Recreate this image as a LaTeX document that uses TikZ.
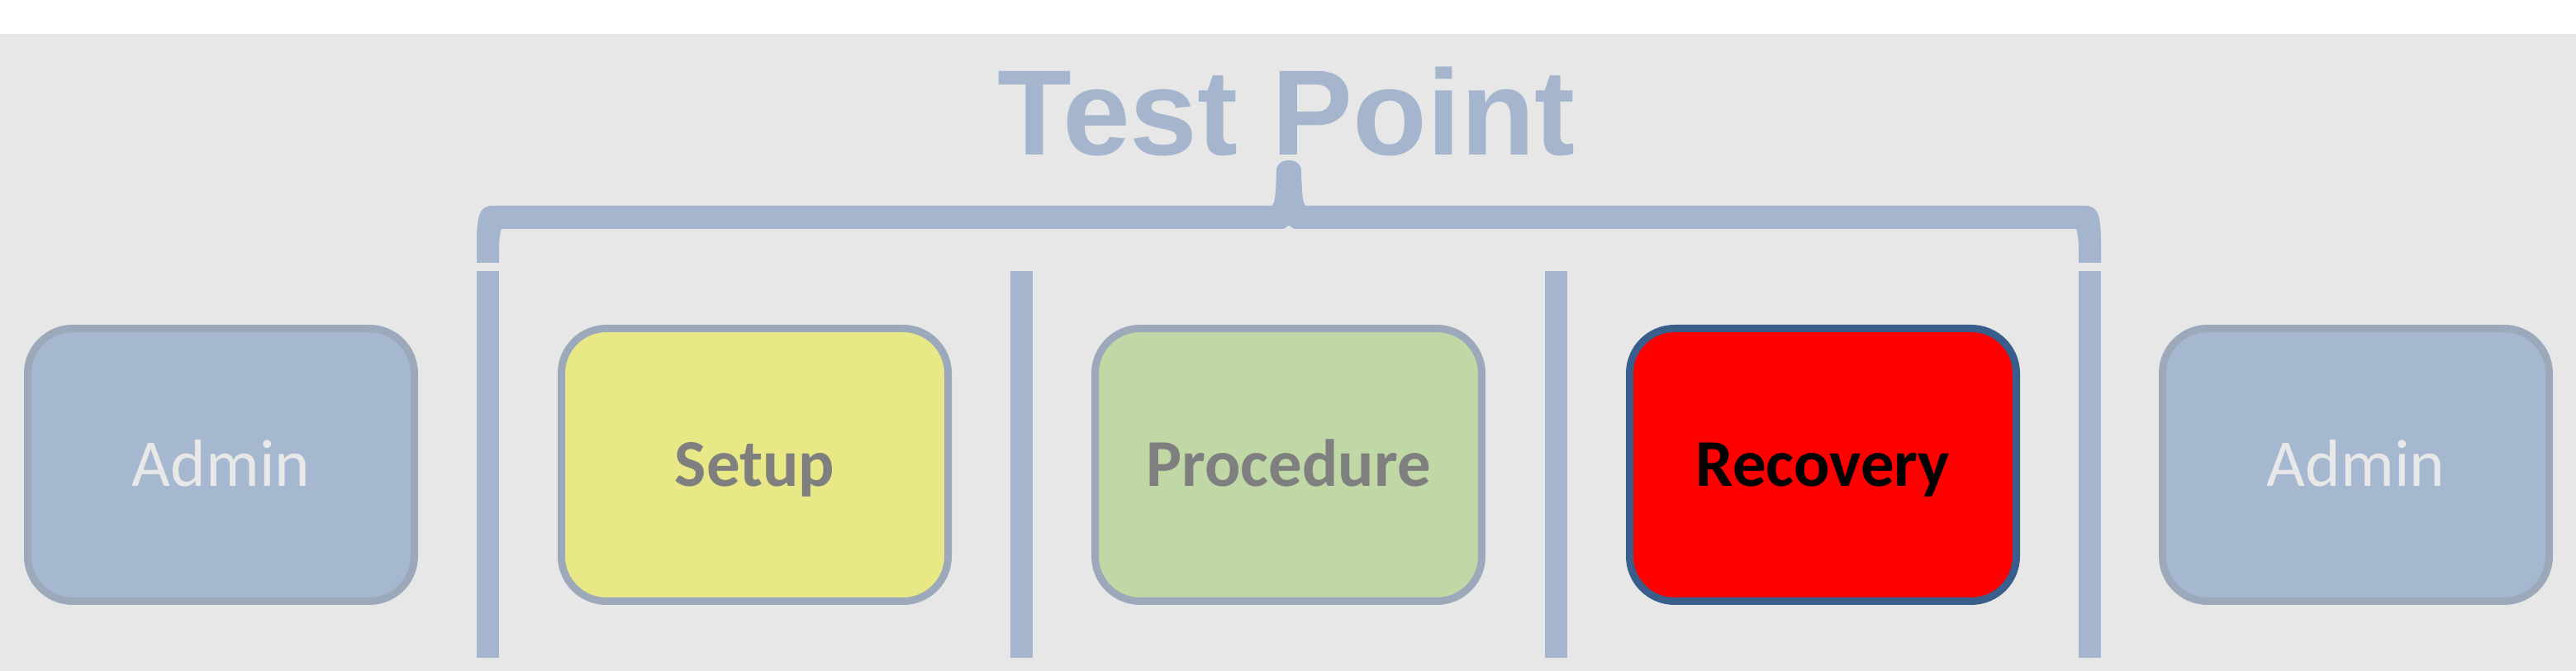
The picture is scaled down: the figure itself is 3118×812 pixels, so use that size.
\documentclass[tikz,border=0pt]{standalone}
\usepackage{fontspec}
\newfontfamily\boxfont{Carlito}
\newfontfamily\titlefont{Liberation Sans}
\definecolor{bg}{HTML}{E7E7E7}
\definecolor{brk}{HTML}{A5B5CD}
\definecolor{adminfill}{HTML}{A5B8CF}
\definecolor{boxline}{HTML}{9CA9BB}
\definecolor{setupfill}{HTML}{E8E886}
\definecolor{procfill}{HTML}{C0D7A6}
\definecolor{recline}{HTML}{3A5E8B}
\definecolor{admintext}{HTML}{E8E8E8}
\definecolor{graytext}{HTML}{7F7F7F}
\begin{document}
\begin{tikzpicture}[x=0.25pt,y=-0.25pt,
  stepbox/.style={draw=boxline, line width=2.25pt, rounded corners=13.6pt,
    minimum width=117pt, minimum height=82.5pt, inner sep=0pt,
    text height=13.25pt, text depth=0pt,
    font=\boxfont\fontsize{20.25}{24}\selectfont},
  adminbox/.style={stepbox, fill=adminfill, text=admintext},
  boldbox/.style={stepbox, font=\boxfont\bfseries\fontsize{20.25}{24}\selectfont},
  divider/.style={fill=brk}]
\useasboundingbox (0,0) rectangle (3118,812);
\fill[white] (0,0) rectangle (3118,41);
\fill[bg] (0,41) rectangle (3118,812);
% title
\node[anchor=base, text=brk, inner sep=0pt,
  font=\titlefont\bfseries\fontsize{36.75}{44}\selectfont] (title) at (1557,188) {Test Point};
% bracket
\fill[brk] (577,318) -- (577,295) .. controls (577,262) and (580,249) .. (596,249)
  -- (1538,249) .. controls (1543,249) and (1544,240) .. (1545,207)
  .. controls (1545,198) and (1552,194) .. (1560,194)
  .. controls (1568,194) and (1575,198) .. (1575,207)
  .. controls (1576,240) and (1577,249) .. (1582,249)
  -- (2524,249) .. controls (2540,249) and (2543,262) .. (2543,295)
  -- (2543,318) -- (2516,318) -- (2516,300) .. controls (2516,290) and (2514,277) .. (2513,277)
  -- (1568,277) .. controls (1564,277) and (1562,273) .. (1560,273)
  .. controls (1558,273) and (1556,277) .. (1552,277)
  -- (607,277) .. controls (606,277) and (604,290) .. (604,300) -- (604,318) -- cycle;
% dividers
\foreach \cx in {590.5,1236,1883,2529.5}{
  \fill[divider] (\cx-13.5,328) rectangle (\cx+13.5,796);
}
% boxes
\node[adminbox] (admin1) at (267.5,562.5) {Admin};
\node[boldbox, fill=setupfill, text=graytext] (setup) at (913.5,562.5) {Setup};
\node[boldbox, fill=procfill, text=graytext] (proc) at (1559.5,562.5) {Procedure};
\node[boldbox, fill=red, draw=recline, text=black] (recovery) at (2206.5,562.5) {Recovery};
\node[adminbox] (admin2) at (2851.5,562.5) {Admin};
\end{tikzpicture}
\end{document}
